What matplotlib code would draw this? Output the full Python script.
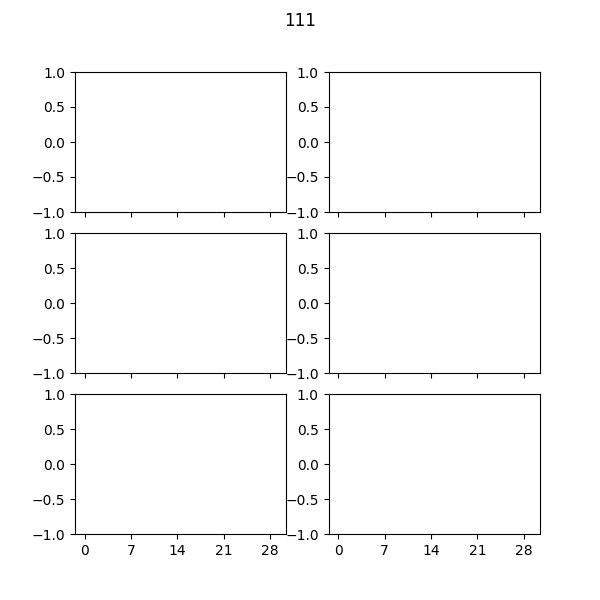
import matplotlib
matplotlib.use("Agg")
import matplotlib.pyplot as plt

# chart data
title = "111"
x_ticks = [0, 7, 14, 21, 28]
x_span = [0, 29]          # day range covered by the (empty) panels
y_span = [-1.0, 1.0]
n_rows, n_cols = 3, 2

fig, axes = plt.subplots(n_rows, n_cols, figsize=(6, 6), dpi=100, sharex=True)
fig.subplots_adjust(hspace=0.15, wspace=0.2)

pad = 0.05 * (x_span[1] - x_span[0])
for ax in axes.flat:
    ax.set_xlim(x_span[0] - pad, x_span[1] + pad)
    ax.set_ylim(*y_span)
    ax.set_xticks(x_ticks)
    ax.set_yticks([-1.0, -0.5, 0.0, 0.5, 1.0])

fig.suptitle(title)
fig.savefig("out.png")
